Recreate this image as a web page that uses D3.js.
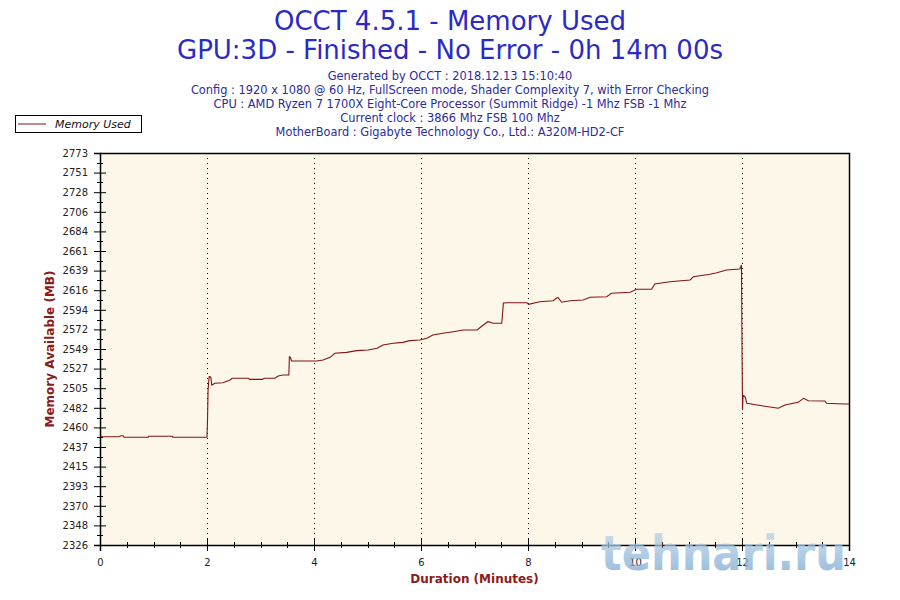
<!DOCTYPE html>
<html>
<head>
<meta charset="utf-8">
<script src="https://cdn.jsdelivr.net/npm/d3@7"></script>
<style>
  body { margin: 0; background: #fff; }
  svg { display: block; }
</style>
</head>
<body>
<script>
// --- data ---
const minutes = [0, 0.355, 0.39, 0.43, 0.45, 0.90, 0.91, 1.35, 1.36, 2.00,
  2.01, 2.02, 2.04, 2.07, 2.09, 2.15, 2.30, 2.43, 2.47, 2.77,
  2.80, 3.03, 3.08, 3.27, 3.33, 3.42, 3.53, 3.54, 3.56, 3.58,
  4.05, 4.17, 4.30, 4.39, 4.61, 4.80, 5.01, 5.18, 5.29, 5.48,
  5.66, 5.79, 5.98, 6.11, 6.22, 6.41, 6.60, 6.79, 7.05, 7.14,
  7.25, 7.35, 7.51, 7.54, 7.61, 7.98, 8.01, 8.22, 8.47, 8.53,
  8.56, 8.63, 8.79, 9.03, 9.16, 9.47, 9.56, 9.91, 10.03, 10.31,
  10.37, 10.65, 11.03, 11.09, 11.40, 11.53, 11.71, 11.96, 11.99, 12.00,
  12.01, 12.02, 12.06, 12.09, 12.40, 12.68, 12.80, 13.05, 13.15, 13.24,
  13.55, 13.58, 13.90, 14.00];
const memoryUsed = [2449.5, 2449.5, 2450.6, 2450.6, 2448.8, 2448.8, 2450.0, 2450.0, 2448.8, 2448.8,
  2468.5, 2502.7, 2517.9, 2517.6, 2508.4, 2510.4, 2511.1, 2514.1, 2516.1, 2516.1,
  2514.9, 2514.9, 2516.1, 2516.1, 2518.7, 2519.9, 2519.9, 2540.4, 2539.8, 2535.8,
  2535.8, 2537.0, 2540.0, 2544.6, 2545.7, 2547.6, 2548.4, 2550.3, 2554.1, 2556.0,
  2557.1, 2559.0, 2559.8, 2561.7, 2565.5, 2567.4, 2569.2, 2571.2, 2571.2, 2575.7,
  2580.6, 2578.8, 2578.8, 2601.9, 2602.3, 2602.3, 2600.5, 2603.4, 2604.6, 2607.3,
  2608.2, 2602.8, 2604.6, 2605.4, 2608.5, 2609.1, 2613.0, 2614.2, 2617.6, 2617.6,
  2623.6, 2626.2, 2628.2, 2631.9, 2634.7, 2636.5, 2639.6, 2640.7, 2645.3, 2554.1,
  2480.0, 2497.0, 2494.8, 2487.6, 2484.5, 2481.9, 2485.6, 2488.7, 2493.3, 2490.5,
  2490.2, 2487.6, 2486.8, 2486.8];

const yMin = 2326, yMax = 2773;
const yTickLabels = ["2326", "2348", "2370", "2393", "2415", "2437", "2460", "2482", "2505", "2527",
  "2549", "2572", "2594", "2616", "2639", "2661", "2684", "2706", "2728", "2751", "2773"];
const xTicks = [0, 2, 4, 6, 8, 10, 12, 14];
const xGrid = [2, 4, 6, 8, 10, 12];

const titleLines = ["OCCT 4.5.1 - Memory Used", "GPU:3D - Finished - No Error - 0h 14m 00s"];
const infoLines = [
  "Generated by OCCT : 2018.12.13 15:10:40",
  "Config : 1920 x 1080 @ 60 Hz, FullScreen mode, Shader Complexity 7, with Error Checking",
  "CPU : AMD Ryzen 7 1700X Eight-Core Processor (Summit Ridge) -1 Mhz FSB -1 Mhz",
  "Current clock : 3866 Mhz FSB 100 Mhz",
  "MotherBoard : Gigabyte Technology Co., Ltd.: A320M-HD2-CF"
];

// --- layout ---
const W = 900, H = 600;
const plot = {left: 100, right: 849, top: 153, bottom: 545};
const lineColor = "#801414";
const axisTitleColor = "#8b1a1a";

const svg = d3.select("body").append("svg")
  .attr("width", W).attr("height", H)
  .style("font-family", "'DejaVu Sans', Verdana, sans-serif");

// titles
svg.selectAll("text.title")
  .data(titleLines)
  .enter().append("text")
    .attr("class", "title")
    .attr("x", W / 2)
    .attr("y", (d, i) => 30 + i * 29)
    .attr("text-anchor", "middle")
    .attr("font-size", 26)
    .attr("fill", "#2a2ac6")
    .text(d => d);

svg.selectAll("text.info")
  .data(infoLines)
  .enter().append("text")
    .attr("class", "info")
    .attr("x", W / 2)
    .attr("y", (d, i) => 80 + i * 14)
    .attr("text-anchor", "middle")
    .attr("font-size", 11.4)
    .attr("fill", "#2b2b9a")
    .text(d => d);

// legend
const legend = svg.append("g");
legend.append("rect")
  .attr("x", 15.5).attr("y", 115.5).attr("width", 126).attr("height", 17)
  .attr("fill", "#fff").attr("stroke", "#000");
legend.append("line")
  .attr("x1", 18).attr("x2", 46).attr("y1", 124).attr("y2", 124)
  .attr("stroke", lineColor).attr("stroke-width", 1);
legend.append("text")
  .attr("x", 55).attr("y", 128)
  .attr("font-size", 11).attr("font-style", "italic").attr("fill", "#111")
  .text("Memory Used");

// scales
const x = d3.scaleLinear().domain([0, 14]).range([plot.left, plot.right]);
const y = d3.scaleLinear().domain([yMin, yMax]).range([plot.bottom, plot.top]);
const yStep = (yMax - yMin) / (yTickLabels.length - 1);
const yTicks = yTickLabels.map((d, i) => yMin + i * yStep);
const yMinor = yTicks.slice(1).map(v => v - yStep / 2);
const xMinor = d3.range(0, 14, 0.5).filter(v => v % 2 !== 0);

// plot background
svg.append("rect")
  .attr("x", plot.left).attr("y", plot.top)
  .attr("width", plot.right - plot.left).attr("height", plot.bottom - plot.top)
  .attr("fill", "#fdf7ea");

// dotted vertical grid
svg.selectAll("line.grid")
  .data(xGrid)
  .enter().append("line")
    .attr("class", "grid")
    .attr("x1", d => Math.round(x(d)) + 0.5).attr("x2", d => Math.round(x(d)) + 0.5)
    .attr("y1", plot.top).attr("y2", plot.bottom)
    .attr("stroke", "#000").attr("stroke-dasharray", "1,4");

// frame top and right
svg.append("path")
  .attr("d", `M${plot.left},${plot.top + 0.5}H${plot.right + 0.5}V${plot.bottom}`)
  .attr("fill", "none").attr("stroke", "#000").attr("stroke-width", 1.5);

// memory line
const line = d3.line()
  .x((d, i) => x(minutes[i]))
  .y(d => y(d));
svg.append("path")
  .datum(memoryUsed)
  .attr("d", line)
  .attr("fill", "none")
  .attr("stroke", lineColor)
  .attr("stroke-width", 1.1);

// y axis
const yAxis = svg.append("g")
  .attr("transform", `translate(${plot.left},0)`)
  .call(d3.axisLeft(y).tickValues(yTicks).tickSize(6).tickPadding(6)
    .tickFormat((d, i) => yTickLabels[i]));
yAxis.selectAll(".tick line").attr("x2", 6).attr("x1", -6);
yAxis.selectAll("text").attr("font-size", 10).attr("fill", "#222")
  .style("font-family", "'DejaVu Sans', Verdana, sans-serif");
yAxis.select(".domain").attr("stroke-width", 1.5);
svg.append("g").selectAll("line")
  .data(yMinor)
  .enter().append("line")
    .attr("x1", plot.left - 3).attr("x2", plot.left + 3)
    .attr("y1", d => Math.round(y(d)) + 0.5).attr("y2", d => Math.round(y(d)) + 0.5)
    .attr("stroke", "#000");

// x axis
const xAxis = svg.append("g")
  .attr("transform", `translate(0,${plot.bottom})`)
  .call(d3.axisBottom(x).tickValues(xTicks).tickSize(6).tickPadding(8));
xAxis.selectAll(".tick line").attr("y1", -6).attr("y2", 6);
xAxis.selectAll("text").attr("font-size", 10).attr("fill", "#222")
  .style("font-family", "'DejaVu Sans', Verdana, sans-serif");
xAxis.select(".domain").attr("stroke-width", 1.5);
svg.append("g").selectAll("line")
  .data(xMinor)
  .enter().append("line")
    .attr("x1", d => Math.round(x(d)) + 0.5).attr("x2", d => Math.round(x(d)) + 0.5)
    .attr("y1", plot.bottom - 3).attr("y2", plot.bottom + 3)
    .attr("stroke", "#000");

// axis titles
svg.append("text")
  .attr("transform", `translate(54,${(plot.top + plot.bottom) / 2}) rotate(-90)`)
  .attr("text-anchor", "middle")
  .attr("font-size", 12).attr("font-weight", "bold").attr("fill", axisTitleColor)
  .text("Memory Available (MB)");
svg.append("text")
  .attr("x", (plot.left + plot.right) / 2).attr("y", 583)
  .attr("text-anchor", "middle")
  .attr("font-size", 12).attr("font-weight", "bold").attr("fill", axisTitleColor)
  .text("Duration (Minutes)");

// watermark, drawn over the axis as in the source image
const grad = svg.append("defs").append("linearGradient")
  .attr("id", "wm").attr("x1", 0).attr("y1", 0).attr("x2", 0).attr("y2", 1);
grad.append("stop").attr("offset", "0%").attr("stop-color", "#c4dcf0");
grad.append("stop").attr("offset", "100%").attr("stop-color", "#6f9fcb");
svg.append("text")
  .attr("x", 601).attr("y", 570)
  .attr("font-size", 48).attr("font-weight", "bold")
  .attr("textLength", 245).attr("lengthAdjust", "spacingAndGlyphs")
  .attr("fill", "url(#wm)").attr("opacity", 0.75)
  .style("font-family", "'DejaVu Sans', sans-serif")
  .text("tehnari.ru");
</script>
</body>
</html>
